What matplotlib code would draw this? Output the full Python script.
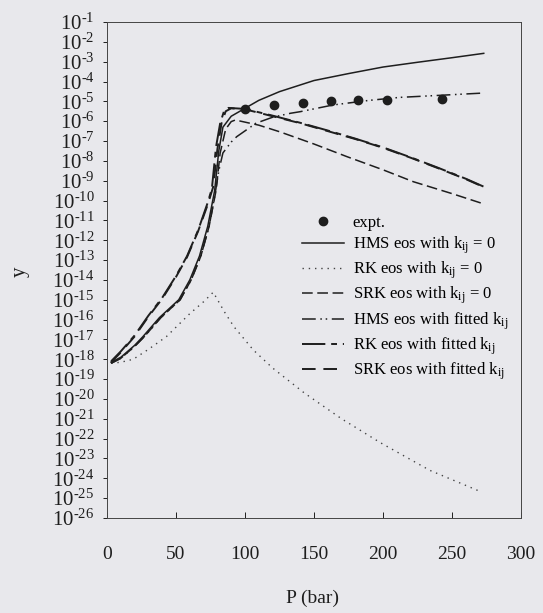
import numpy as np
import matplotlib
matplotlib.use("Agg")
import matplotlib.pyplot as plt

plt.rcParams['font.family'] = ['Liberation Serif', 'DejaVu Serif']
plt.rcParams['mathtext.fontset'] = 'custom'
plt.rcParams['mathtext.rm'] = 'Liberation Serif'
plt.rcParams['mathtext.it'] = 'Liberation Serif:italic'
plt.rcParams['mathtext.bf'] = 'Liberation Serif:bold'

# ---- data (log10 of y) ----
P_expt = [100, 121, 142, 162, 182, 203, 243]
log_expt = [-5.38, -5.18, -5.08, -4.98, -4.93, -4.93, -4.90]

P_hms0 = [3, 10, 20, 26, 38, 52, 60, 67, 73, 78, 81, 84, 90, 100, 110, 125, 150, 175, 200, 225, 250, 273]
log_hms0 = [-18.15, -17.9, -17.3, -16.86, -15.9, -15.0, -14.0, -12.8, -11.3, -9.5, -7.5, -6.3,
            -5.75, -5.35, -4.95, -4.51, -3.95, -3.6, -3.27, -3.03, -2.8, -2.58]

P_rk0 = [3, 10, 19, 30, 43, 60, 70, 77, 85, 92, 106, 120, 143, 170, 198, 234, 270]
log_rk0 = [-18.2, -18.15, -18.0, -17.5, -16.86, -15.7, -15.1, -14.62, -15.6, -16.36, -17.53,
           -18.44, -19.7, -21.0, -22.2, -23.6, -24.65]

P_srk0 = [3, 10, 20, 27, 39, 53, 61, 68, 74, 79, 82, 86, 90, 93, 110, 125, 150, 174, 200, 222, 250, 273]
log_srk0 = [-18.2, -17.95, -17.35, -16.86, -15.9, -15.0, -14.0, -12.8, -11.3, -9.5, -7.6, -6.4,
            -6.02, -5.94, -6.2, -6.53, -7.15, -7.79, -8.45, -9.05, -9.65, -10.17]

P_hmsf = [3, 10, 20, 27, 39, 53, 61, 68, 74, 78, 81, 84, 90, 94, 108, 120, 133, 140, 164, 190, 212, 240, 273]
log_hmsf = [-18.2, -17.95, -17.35, -16.86, -15.9, -15.0, -14.0, -12.8, -11.3, -9.8, -8.5, -7.6,
            -7.05, -6.78, -6.1, -5.8, -5.6, -5.52, -5.18, -4.95, -4.8, -4.7, -4.58]

P_rkf = [3, 10, 20, 30, 40, 50, 58, 66, 73, 76, 79, 82, 85, 88, 100, 120, 140, 160, 180, 200, 220, 240, 260, 273]
log_rkf = [-18.1, -17.6, -16.8, -15.8, -14.9, -13.8, -12.8, -11.5, -10.1, -9.4, -7.3, -6.1,
           -5.45, -5.33, -5.38, -5.72, -6.08, -6.47, -6.88, -7.32, -7.82, -8.35, -8.9, -9.3]

P_srkf = [3, 10, 20, 30, 40, 50, 58, 66, 73, 77, 80, 83, 86, 90, 100, 120, 140, 160, 180, 200, 220, 240, 260, 273]
log_srkf = [-18.15, -17.65, -16.85, -15.85, -14.95, -13.85, -12.85, -11.55, -10.2, -9.3, -7.4, -6.1,
            -5.5, -5.35, -5.4, -5.75, -6.1, -6.5, -6.9, -7.34, -7.84, -8.37, -8.92, -9.32]

x_ticks = [0, 50, 100, 150, 200, 250, 300]
y_exponents = list(range(-1, -27, -1))

labels = ["expt.",
          r"HMS eos with k$_{\mathregular{ij}}$ = 0",
          r"RK eos with k$_{\mathregular{ij}}$ = 0",
          r"SRK eos with k$_{\mathregular{ij}}$ = 0",
          r"HMS eos with fitted k$_{\mathregular{ij}}$",
          r"RK eos with fitted k$_{\mathregular{ij}}$",
          r"SRK eos with fitted k$_{\mathregular{ij}}$"]

bg = '#e8e8ec'
ink = '#1e1e1e'

fig = plt.figure(figsize=(5.43, 6.13), dpi=100, facecolor=bg)
ax = fig.add_axes([107/543, 1-518/613, (521-107)/543, (518-22)/613])
ax.set_facecolor(bg)

def pw(v):
    return 10.0 ** np.asarray(v, dtype=float)

ax.plot(P_expt, pw(log_expt), 'o', color=ink, ms=6, label=labels[0], zorder=5)
ax.plot(P_hms0, pw(log_hms0), '-', color=ink, lw=1.1, label=labels[1])
ax.plot(P_rk0, pw(log_rk0), color='#444444', lw=1.0, ls=(0, (1, 3.5)), label=labels[2])
ax.plot(P_srk0, pw(log_srk0), color=ink, lw=1.1, ls=(0, (7, 3)), label=labels[3])
ax.plot(P_hmsf, pw(log_hmsf), color=ink, lw=1.1, ls=(0, (9, 3, 1, 2.5, 1, 3)), label=labels[4])
ax.plot(P_rkf, pw(log_rkf), color=ink, lw=1.4, ls=(0, (12, 3, 3, 3)), label=labels[5])
ax.plot(P_srkf, pw(log_srkf), color=ink, lw=1.4, ls=(0, (7, 4)), label=labels[6])

ax.set_yscale('log')
ax.set_xlim(0, 300)
ax.set_ylim(1e-26, 1e-1)
ax.set_xticks(x_ticks)
ax.set_xticklabels([str(t) for t in x_ticks])
ax.yaxis.set_major_locator(matplotlib.ticker.FixedLocator([10.0**e for e in y_exponents]))
ax.yaxis.set_minor_locator(matplotlib.ticker.NullLocator())
ax.set_yticklabels([r'$\mathregular{10^{\text{-}%d}}$' % (-e) for e in y_exponents])

ax.tick_params(axis='y', direction='out', length=3, width=0.7, pad=6, labelsize=15, colors=ink)
ax.tick_params(axis='x', direction='in', length=4, width=0.7, pad=20, labelsize=14, colors=ink)
for s in ax.spines.values():
    s.set_linewidth(0.7)
    s.set_color('#444444')

leg = ax.legend(loc='upper left', bbox_to_anchor=(0.455, 0.625), frameon=False,
                fontsize=12, handlelength=2.5, handletextpad=0.55, labelspacing=0.22,
                borderaxespad=0)

fig.text(20/543, 1-272/613, 'y', rotation=90, ha='center', va='center', fontsize=15, color=ink)
fig.text(313/543, 1-598/613, 'P (bar)', ha='center', va='center', fontsize=14, color=ink)

fig.savefig('out.png', dpi=100, facecolor=bg)
